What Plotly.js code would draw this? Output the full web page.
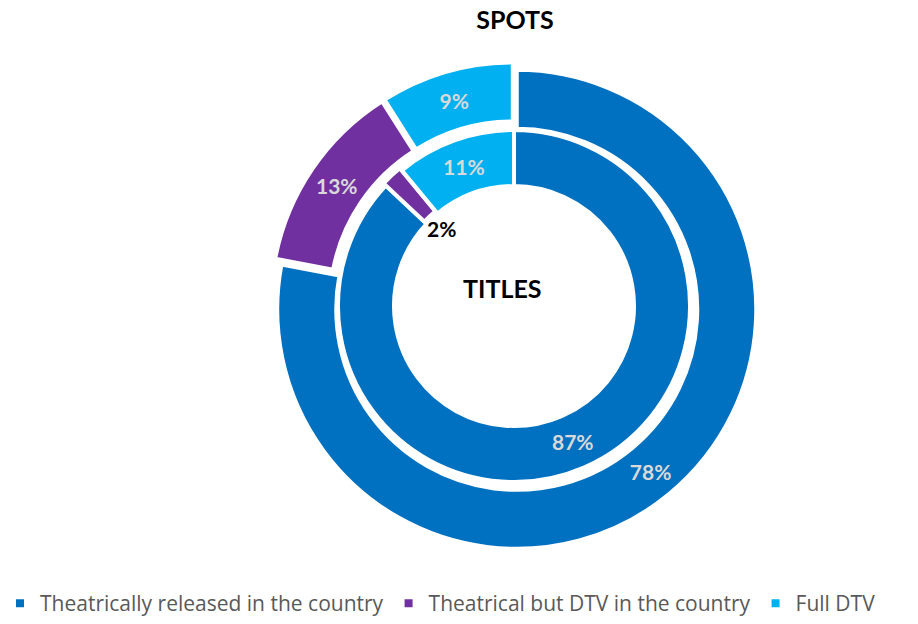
<!DOCTYPE html>
<html>
<head>
<meta charset="utf-8">
<script src="https://cdn.plot.ly/plotly-3.0.1.min.js"></script>
<style>html,body{margin:0;padding:0;background:#fff;}#chart{width:918px;height:624px;}</style>
</head>
<body>
<div id="chart"></div>
<script>
// ---- data ----
const categories = ['Theatrically released in the country', 'Theatrical but DTV in the country', 'Full DTV'];
const spotsValues = [78, 13, 9];
const titlesValues = [87, 2, 11];
const outerTitle = 'SPOTS';
const innerTitle = 'TITLES';
const sliceColors = ['#0070C0', '#7030A0', '#00B0F0'];

// ---- layout geometry (pixels) ----
const W = 918, H = 624;
const cx = 514, cy = 306;            // centre of both rings (from top-left)
const border = 4;
const outerR = 239.5, outerHoleR = 180.5, outerPull = 0.018;
const innerR = 176, innerHoleR = 120, innerPull = 0.017;

function domainFor(r, pull) {
  const half = r * (1 + pull);
  const cyb = H - cy;
  return { x: [(cx - half) / W, (cx + half) / W], y: [(cyb - half) / H, (cyb + half) / H] };
}

const labelFont = { family: 'Lato', size: 21, color: '#D9D9D9', weight: 'bold' };

const outer = {
  type: 'pie', labels: categories, values: spotsValues, sort: false, direction: 'clockwise', rotation: 0,
  hole: outerHoleR / outerR, domain: domainFor(outerR, outerPull),
  pull: spotsValues.map(() => outerPull),
  marker: { colors: sliceColors, line: { color: '#FFFFFF', width: border } },
  texttemplate: '%{value}%', textposition: 'inside', insidetextorientation: 'horizontal',
  insidetextfont: labelFont, hoverinfo: 'none', showlegend: true
};

const inner = {
  type: 'pie', labels: categories, values: titlesValues, sort: false, direction: 'clockwise', rotation: 0,
  hole: innerHoleR / innerR, domain: domainFor(innerR, innerPull),
  pull: titlesValues.map(v => (v < 5 ? innerPull : 0)),
  marker: { colors: sliceColors, line: { color: '#FFFFFF', width: border } },
  texttemplate: titlesValues.map(v => (v < 5 ? '' : '%{value}%')),
  textposition: titlesValues.map(v => (v < 5 ? 'none' : 'inside')),
  insidetextorientation: 'horizontal',
  insidetextfont: labelFont, hoverinfo: 'none', showlegend: true
};

// label for the small inner slice, placed just inside the hole along its mid-angle
const total = titlesValues.reduce((a, b) => a + b, 0);
const smallIdx = titlesValues.findIndex(v => v < 5);
const before = titlesValues.slice(0, smallIdx).reduce((a, b) => a + b, 0);
const midAng = 2 * Math.PI * (before + titlesValues[smallIdx] / 2) / total;
const lr = 106;
const smallX = (cx + lr * Math.sin(midAng)) / W;
const smallY = 1 - (cy - lr * Math.cos(midAng)) / H;

const layout = {
  width: W, height: H,
  margin: { l: 0, r: 0, t: 0, b: 0, autoexpand: false },
  paper_bgcolor: '#FFFFFF',
  font: { family: 'Open Sans', color: '#595959' },
  title: { text: outerTitle, x: 515 / W, xanchor: 'center', y: 1 - 20 / H, yanchor: 'middle', yref: 'container',
           font: { family: 'Lato', size: 25, color: '#000000', weight: 'bold' } },
  showlegend: true,
  legend: { orientation: 'h', x: 0, xanchor: 'left', y: 0, yanchor: 'bottom',
            font: { family: 'Open Sans', size: 21, color: '#595959' }, traceorder: 'normal' },
  annotations: [
    { text: innerTitle, x: 502.5 / W, y: 1 - 288 / H, xref: 'paper', yref: 'paper', xanchor: 'center', yanchor: 'middle',
      showarrow: false, font: { family: 'Lato', size: 25, color: '#000000', weight: 'bold' } },
    { text: titlesValues[smallIdx] + '%', x: smallX, y: smallY, xref: 'paper', yref: 'paper', xanchor: 'center', yanchor: 'middle',
      showarrow: false, font: { family: 'Lato', size: 21, color: '#000000', weight: 'bold' } }
  ]
};

Plotly.newPlot('chart', [outer, inner], layout, { displayModeBar: false, staticPlot: true });
</script>
</body>
</html>
